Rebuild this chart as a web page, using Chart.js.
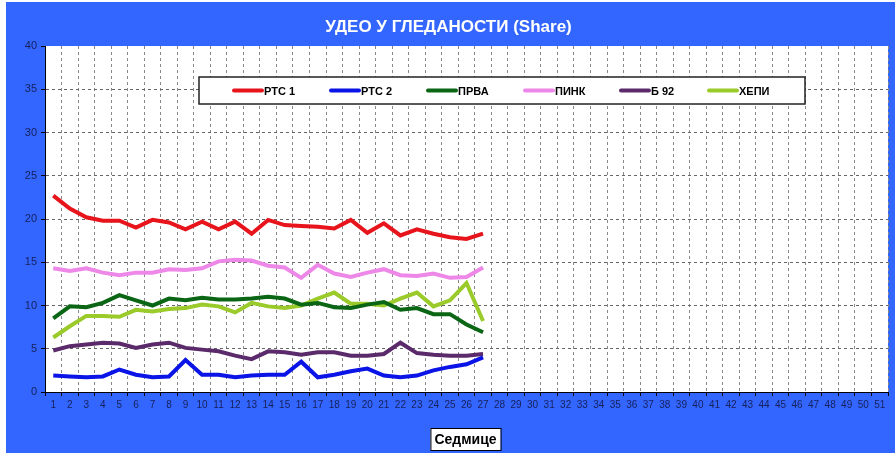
<!DOCTYPE html>
<html>
<head>
<meta charset="utf-8">
<script src="https://cdn.jsdelivr.net/npm/chart.js@4.4.0/dist/chart.umd.min.js"></script>
<style>
  html, body { margin: 0; padding: 0; background: #fff; }
  #wrap { position: absolute; left: 6px; top: 2px; }
</style>
</head>
<body>
<div id="wrap"><canvas id="chart" width="889" height="451"></canvas></div>
<script>
// weeks 1..51 on the x axis, data only for the first 27
const weeks = Array.from({ length: 51 }, (_, i) => String(i + 1));

const rts1 = [22.7, 21.2, 20.2, 19.8, 19.8, 19.0, 19.9, 19.6, 18.8, 19.7, 18.8, 19.7, 18.3, 19.9,
  19.3, 19.2, 19.1, 18.9, 19.9, 18.4, 19.5, 18.1, 18.8, 18.3, 17.9, 17.7, 18.3];
const rts2 = [1.9, 1.8, 1.7, 1.8, 2.6, 2.0, 1.7, 1.8, 3.7, 2.0, 2.0, 1.7, 1.9, 2.0,
  2.0, 3.5, 1.7, 2.0, 2.4, 2.7, 1.9, 1.7, 1.9, 2.5, 2.9, 3.2, 4.0];
const prva = [8.5, 9.9, 9.8, 10.3, 11.2, 10.6, 10.0, 10.8, 10.6, 10.9, 10.7, 10.7, 10.8, 11.0,
  10.8, 10.1, 10.3, 9.8, 9.7, 10.1, 10.4, 9.5, 9.7, 9.0, 9.0, 7.8, 6.9];
const pink = [14.3, 14.0, 14.3, 13.8, 13.5, 13.8, 13.8, 14.2, 14.1, 14.3, 15.1, 15.3, 15.2, 14.6,
  14.4, 13.2, 14.7, 13.7, 13.3, 13.8, 14.2, 13.5, 13.4, 13.7, 13.2, 13.3, 14.4];
const b92 = [4.8, 5.3, 5.5, 5.7, 5.6, 5.1, 5.5, 5.7, 5.1, 4.9, 4.7, 4.2, 3.8, 4.7,
  4.6, 4.3, 4.6, 4.6, 4.2, 4.2, 4.4, 5.7, 4.5, 4.3, 4.2, 4.2, 4.4];
const hepi = [6.3, 7.6, 8.8, 8.8, 8.7, 9.5, 9.3, 9.6, 9.7, 10.1, 9.9, 9.2, 10.3, 9.9,
  9.7, 10.0, 10.8, 11.5, 10.2, 10.2, 10.0, 10.8, 11.5, 9.9, 10.6, 12.6, 8.2];

const seriesNames = ['РТС 1', 'РТС 2', 'ПРВА', 'ПИНК', 'Б 92', 'ХЕПИ'];
const seriesData = [rts1, rts2, prva, pink, b92, hepi];
const seriesColors = ['#e8141c', '#0a14e6', '#0a6614', '#ee88e8', '#5a2a6a', '#9acb2a'];

const chartTitle = 'УДЕО У ГЛЕДАНОСТИ (Share)';
const xTitle = 'Седмице';

const BG = '#3366ff';
const TICK = '#16205a';

// blue panel, title and the boxed axis title
const decor = {
  id: 'decor',
  beforeDraw(chart) {
    const { ctx, chartArea: a } = chart;
    ctx.save();
    ctx.fillStyle = BG;
    ctx.fillRect(0, 0, chart.width, chart.height);
    ctx.fillStyle = '#fff';
    ctx.fillRect(a.left, a.top, a.right - a.left, a.bottom - a.top);
    ctx.restore();
  },
  afterDraw(chart) {
    const { ctx, chartArea: a } = chart;
    ctx.save();
    ctx.font = 'bold 17px "Liberation Sans", Arial, sans-serif';
    ctx.fillStyle = '#fff';
    ctx.textAlign = 'center';
    ctx.textBaseline = 'middle';
    ctx.fillText(chartTitle, chart.width / 2 - 2, 25);

    ctx.font = 'bold 14px "Liberation Sans", Arial, sans-serif';
    const w = ctx.measureText(xTitle).width + 8;
    const cx = (a.left + a.right) / 2 - 1;
    const cy = 437;
    ctx.fillStyle = '#fff';
    ctx.fillRect(cx - w / 2, cy - 11, w, 22);
    ctx.strokeStyle = '#000';
    ctx.lineWidth = 1;
    ctx.strokeRect(cx - w / 2 + 0.5, cy - 10.5, w, 22);
    ctx.fillStyle = '#000';
    ctx.fillText(xTitle, cx, cy + 1);
    ctx.restore();
  }
};

// legend box drawn inside the plot area
const boxLegend = {
  id: 'boxLegend',
  afterDatasetsDraw(chart) {
    const { ctx, chartArea: a } = chart;
    const left = a.left + 154, top = a.top + 31, w = 606, h = 27;
    ctx.save();
    ctx.fillStyle = '#fff';
    ctx.fillRect(left, top, w, h);
    ctx.strokeStyle = '#222';
    ctx.lineWidth = 1.5;
    ctx.strokeRect(left, top, w, h);
    ctx.font = 'bold 11px "Liberation Sans", Arial, sans-serif';
    ctx.textBaseline = 'middle';
    const y = top + h / 2;
    const offs = [35, 132, 229, 326, 422, 510];
    chart.data.datasets.forEach((ds, i) => {
      const x = left + offs[i];
      ctx.strokeStyle = ds.borderColor;
      ctx.lineWidth = 4;
      ctx.lineCap = 'round';
      ctx.beginPath();
      ctx.moveTo(x, y);
      ctx.lineTo(x + 28, y);
      ctx.stroke();
      ctx.fillStyle = '#000';
      ctx.fillText(ds.label, x + 30, y + 1);
    });
    ctx.restore();
  }
};

new Chart(document.getElementById('chart'), {
  type: 'line',
  data: {
    labels: weeks,
    datasets: seriesNames.map((name, i) => ({
      label: name,
      data: seriesData[i],
      borderColor: seriesColors[i],
      backgroundColor: seriesColors[i],
      borderWidth: 4,
      pointRadius: 0,
      tension: 0,
      fill: false
    }))
  },
  options: {
    responsive: false,
    animation: false,
    layout: { padding: { top: 44, right: 7, left: 0, bottom: 0 } },
    plugins: {
      legend: { display: false },
      title: { display: false },
      tooltip: { enabled: false }
    },
    scales: {
      x: {
        offset: true,
        grid: {
          offset: true,
          color: '#888',
          lineWidth: 1,
          tickLength: 4,
          tickColor: '#000'
        },
        border: { color: '#000', width: 1, dash: [3, 3] },
        ticks: {
          color: TICK,
          font: { family: '"Liberation Sans", Arial, sans-serif', size: 10 },
          maxRotation: 0,
          autoSkip: false,
          padding: 3
        },
        afterFit(scale) { scale.height = 61; }
      },
      y: {
        min: 0,
        max: 40,
        grid: {
          color: c => (c.tick && c.tick.value === 40 ? 'rgba(0,0,0,0)' : '#666'),
          lineWidth: 1,
          tickLength: 4,
          tickColor: '#000'
        },
        border: { color: '#000', width: 1, dash: [3, 3] },
        ticks: {
          stepSize: 5,
          color: TICK,
          font: { family: '"Liberation Sans", Arial, sans-serif', size: 11 },
          padding: 4
        },
        afterFit(scale) { scale.width = 39; }
      }
    }
  },
  plugins: [decor, boxLegend]
});
</script>
</body>
</html>
